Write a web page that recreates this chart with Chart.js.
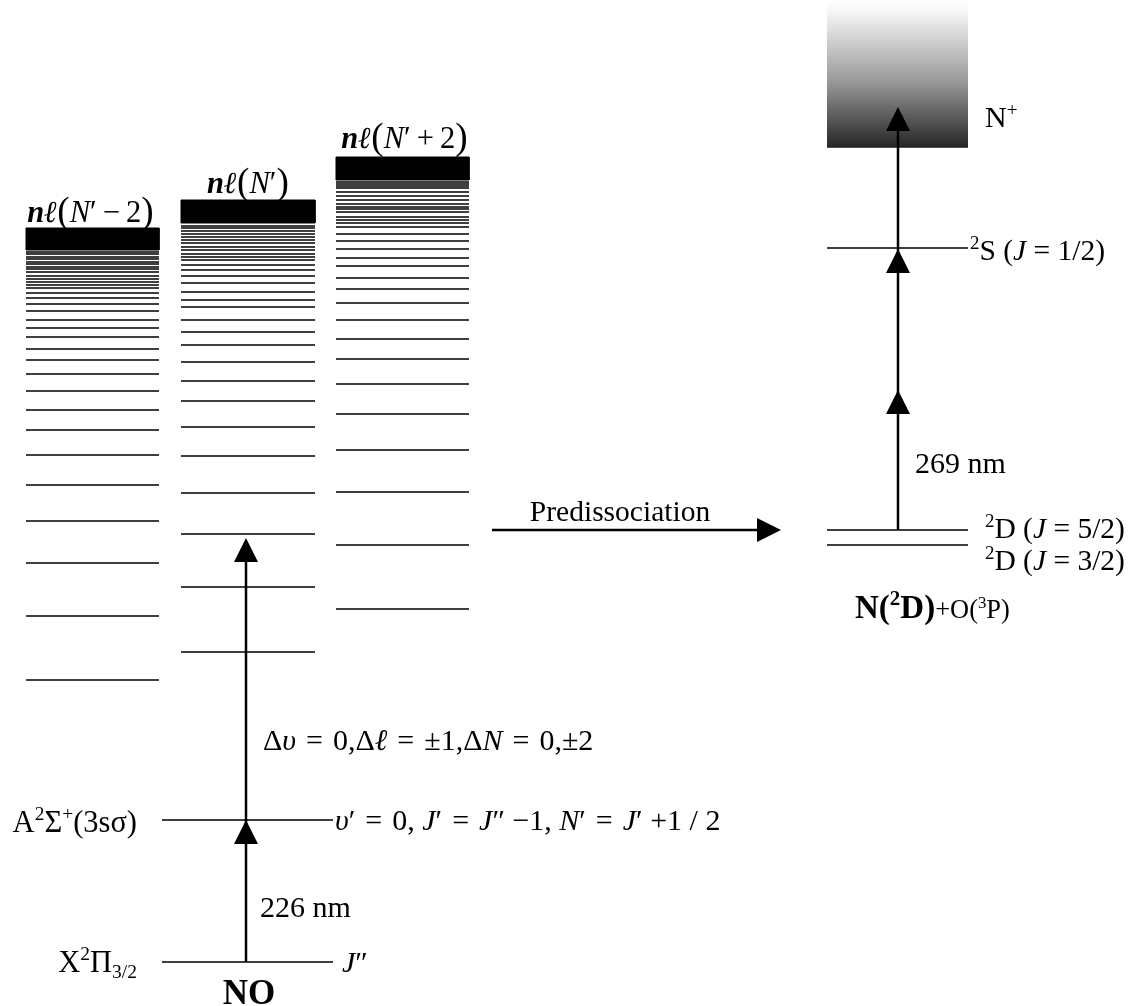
<!DOCTYPE html>
<html>
<head>
<meta charset="utf-8">
<script src="https://cdn.jsdelivr.net/npm/chart.js@4.4.1/dist/chart.umd.min.js"></script>
<style>
  html, body { margin: 0; padding: 0; background: #ffffff; }
  #wrap { width: 1128px; height: 1006px; position: relative; }
</style>
</head>
<body>
<div id="wrap"><canvas id="diagram"></canvas></div>
<script>
// Energies in arbitrary units, NO X state = 0.
// Rydberg series converging on the ion, one ladder per rotational branch.
const seriesNames = ['nℓ(N′−2)', 'nℓ(N′)', 'nℓ(N′+2)'];
const levelsNm2 = [28.2, 34.6, 39.9, 44.1, 47.7, 50.7, 53.2, 55.2, 57.1, 58.8, 60.2, 61.3,
  62.5, 63.4, 64.2, 65.1, 65.8, 66.4, 66.9, 67.4, 67.7, 68.0, 68.3, 68.6, 69.0, 69.3,
  69.5, 69.8, 70.0, 70.3, 70.5, 70.8, 71.0];
const levelsN = [31.0, 37.5, 42.8, 46.9, 50.6, 53.5, 56.1, 58.1, 60.0, 61.7, 63.0, 64.2,
  65.5, 66.2, 67.0, 67.9, 68.6, 69.2, 69.7, 70.2, 70.5, 70.8, 71.2, 71.5, 71.9, 72.2,
  72.5, 72.8, 73.1, 73.4, 73.6];
const levelsNp2 = [35.3, 41.7, 47.0, 51.2, 54.8, 57.8, 60.3, 62.3, 64.2, 65.9, 67.3, 68.4,
  69.6, 70.4, 71.3, 72.1, 72.8, 73.5, 73.9, 74.2, 74.5, 75.0, 75.3, 75.5, 75.8, 76.2,
  76.6, 77.0, 77.4, 77.6, 77.8, 78.0];
// unresolved high-n part of each ladder: [low, high]
const continuumNm2 = [71.2, 73.4];
const continuumN = [73.9, 76.2];
const continuumNp2 = [78.2, 80.5];

// NO X²Π3/2 (J″) and A²Σ⁺ (v′=0) levels
const noStateEnergies = [0, 14.2];
// atomic nitrogen: ²D(J=3/2), ²D(J=5/2), ²S(J=1/2)
const atomLevelEnergies = [41.7, 43.2, 71.4];
// N⁺ ionisation limit and top of the drawn continuum
const ionLimit = 81.5;
const ionTop = 96.2;

// arrow tips
const pumpArrowTips = [14.2, 42.4];        // 226 nm, then Rydberg excitation
const probeArrowTips = [57.2, 71.3, 85.5]; // 269 nm (2+1) REMPI of N(²D)
const predissociationEnergy = 43.2;

// ---- layout along the horizontal axis (same units) ----
const COLS = [[2.6, 15.9], [18.1, 31.5], [33.6, 46.9]];
const NO_SPAN = [16.2, 33.3];
const ATOM_SPAN = [82.7, 96.8];
const PUMP_X = 24.6;
const PROBE_X = 89.8;
const PRED_SPAN = [49.2, 78.1];
const HEAD_LEN = 2.4;

const SERIF = '"Liberation Serif", "Times New Roman", serif';

function hSegments(energies, x0, x1) {
  const pts = [];
  energies.forEach(e => { pts.push({x: x0, y: e}, {x: x1, y: e}, {x: x1, y: null}); });
  return pts;
}
function box(x0, x1, lo, hi) {
  return [{x: x0, y: hi}, {x: x1, y: hi}, {x: x1, y: lo}, {x: x0, y: lo}, {x: x0, y: hi}];
}

// arrowhead image: tip at the canvas centre, pointing up
function makeHead(w, h) {
  const c = document.createElement('canvas');
  c.width = w; c.height = h * 2;
  const g = c.getContext('2d');
  g.fillStyle = '#000';
  g.beginPath();
  g.moveTo(w / 2, h);
  g.lineTo(w, h * 2);
  g.lineTo(0, h * 2);
  g.closePath();
  g.fill();
  return c;
}
const head = makeHead(24, 24);

const pumpTop = pumpArrowTips[pumpArrowTips.length - 1];
const probeTop = probeArrowTips[probeArrowTips.length - 1];

const shafts = [
  {x: PUMP_X, y: noStateEnergies[0]}, {x: PUMP_X, y: pumpTop - HEAD_LEN / 2}, {x: PUMP_X, y: null},
  {x: PROBE_X, y: atomLevelEnergies[1]}, {x: PROBE_X, y: probeTop - HEAD_LEN / 2}, {x: PROBE_X, y: null},
  {x: PRED_SPAN[0], y: predissociationEnergy}, {x: PRED_SPAN[1] - HEAD_LEN / 2, y: predissociationEnergy}
];
const heads = [
  ...pumpArrowTips.map(e => ({x: PUMP_X, y: e})),
  ...probeArrowTips.map(e => ({x: PROBE_X, y: e})),
  {x: PRED_SPAN[1], y: predissociationEnergy}
];
const headRot = heads.map((p, i) => i === heads.length - 1 ? 90 : 0);

const lineDefaults = {showLine: true, pointRadius: 0, pointHoverRadius: 0, spanGaps: false,
  tension: 0, borderColor: '#000', backgroundColor: '#000', fill: false};

function ionGradient(c) {
  const chart = c.chart;
  if (!chart.chartArea) return '#888';
  const y = chart.scales.y;
  const g = chart.ctx.createLinearGradient(0, y.getPixelForValue(ionTop), 0, y.getPixelForValue(ionLimit));
  g.addColorStop(0, '#ffffff');
  g.addColorStop(0.08, '#f6f6f6');
  g.addColorStop(0.55, '#9a9a9a');
  g.addColorStop(1, '#262626');
  return g;
}

const datasets = [
  Object.assign({}, lineDefaults, {label: 'arrowheads', data: heads, showLine: false,
    pointRadius: 12, pointStyle: head, pointRotation: headRot, order: 0}),
  Object.assign({}, lineDefaults, {label: 'arrows', data: shafts, borderWidth: 2.5, order: 1}),
  Object.assign({}, lineDefaults, {label: seriesNames[0], data: hSegments(levelsNm2, COLS[0][0], COLS[0][1]), borderWidth: 1.6, order: 2}),
  Object.assign({}, lineDefaults, {label: seriesNames[1], data: hSegments(levelsN, COLS[1][0], COLS[1][1]), borderWidth: 1.6, order: 2}),
  Object.assign({}, lineDefaults, {label: seriesNames[2], data: hSegments(levelsNp2, COLS[2][0], COLS[2][1]), borderWidth: 1.6, order: 2}),
  Object.assign({}, lineDefaults, {label: 'NO', data: hSegments(noStateEnergies, NO_SPAN[0], NO_SPAN[1]), borderWidth: 1.5, order: 2}),
  Object.assign({}, lineDefaults, {label: 'N', data: hSegments(atomLevelEnergies, ATOM_SPAN[0], ATOM_SPAN[1]), borderWidth: 1.5, order: 2}),
  Object.assign({}, lineDefaults, {label: 'N+ limit', data: hSegments([ionLimit], ATOM_SPAN[0], ATOM_SPAN[1]), borderWidth: 1.5, borderColor: '#1e1e1e', order: 2}),
  Object.assign({}, lineDefaults, {label: 'cont1', data: box(COLS[0][0], COLS[0][1], continuumNm2[0], continuumNm2[1]), fill: 'shape', borderWidth: 1, order: 3}),
  Object.assign({}, lineDefaults, {label: 'cont2', data: box(COLS[1][0], COLS[1][1], continuumN[0], continuumN[1]), fill: 'shape', borderWidth: 1, order: 3}),
  Object.assign({}, lineDefaults, {label: 'cont3', data: box(COLS[2][0], COLS[2][1], continuumNp2[0], continuumNp2[1]), fill: 'shape', borderWidth: 1, order: 3}),
  Object.assign({}, lineDefaults, {label: 'N+', data: box(ATOM_SPAN[0], ATOM_SPAN[1], ionLimit, ionTop), fill: 'shape',
    borderWidth: 0, borderColor: 'rgba(0,0,0,0)', backgroundColor: ionGradient, order: 4})
];

// ---- text ----
// run flags: i italic, b bold, sup/sub, s size factor, dy baseline shift (em)
function nl(tail) {
  return [{t: 'n', b: 1, i: 1}, {t: 'ℓ', b: 1, i: 1}, {t: '(', s: 1.22, dy: 0.04},
          {t: 'N', i: 1}, {t: '′'}, {t: tail}, {t: ')', s: 1.22, dy: 0.04}];
}
const EQ = '\u2004=\u2004';
const texts = [
  {x: 9.05, y: 74.0, align: 'center', size: 30.5, runs: nl('\u2009−\u20092')},
  {x: 24.8, y: 76.9, align: 'center', size: 30.5, runs: nl('')},
  {x: 40.45, y: 81.4, align: 'center', size: 30.5, runs: nl('\u2009+\u20092')},
  {x: 13.7, y: 13.0, align: 'right', size: 30.5, runs: [{t: 'A'}, {t: '2', sup: 1}, {t: 'Σ'}, {t: '+', sup: 1}, {t: '(3sσ)'}]},
  {x: 13.7, y: -1.0, align: 'right', size: 30.5, runs: [{t: 'X'}, {t: '2', sup: 1}, {t: 'Π'}, {t: '3/2', sub: 1}]},
  {x: 26.0, y: 4.5, align: 'left', size: 30, runs: [{t: '226 nm'}]},
  {x: 24.9, y: -4.2, align: 'center', size: 35, runs: [{t: 'NO', b: 1}]},
  {x: 34.2, y: -1.0, align: 'left', size: 30, runs: [{t: 'J', i: 1}, {t: '″'}]},
  {x: 26.3, y: 21.2, align: 'left', size: 30, runs: [{t: 'Δ'}, {t: 'υ', i: 1}, {t: EQ + '0,Δ'}, {t: 'ℓ', i: 1},
    {t: EQ + '±1,Δ'}, {t: 'N', i: 1}, {t: EQ + '0,±2'}]},
  {x: 33.5, y: 13.2, align: 'left', size: 30, runs: [{t: 'υ', i: 1}, {t: '′' + EQ + '0, '}, {t: 'J', i: 1}, {t: '′' + EQ},
    {t: 'J', i: 1}, {t: '″ −1, '}, {t: 'N', i: 1}, {t: '′' + EQ}, {t: 'J', i: 1}, {t: '′ +1 / 2'}]},
  {x: 62.0, y: 44.1, align: 'center', size: 29.5, runs: [{t: 'Predissociation'}]},
  {x: 91.5, y: 48.9, align: 'left', size: 30, runs: [{t: '269 nm'}]},
  {x: 98.5, y: 83.5, align: 'left', size: 30, runs: [{t: 'N'}, {t: '+', sup: 1}]},
  {x: 97.0, y: 70.2, align: 'left', size: 29.5, runs: [{t: '2', sup: 1}, {t: 'S ('}, {t: 'J', i: 1}, {t: ' = 1/2)'}]},
  {x: 98.5, y: 42.4, align: 'left', size: 29.5, runs: [{t: '2', sup: 1}, {t: 'D ('}, {t: 'J', i: 1}, {t: ' = 5/2)'}]},
  {x: 98.5, y: 39.2, align: 'left', size: 29.5, runs: [{t: '2', sup: 1}, {t: 'D ('}, {t: 'J', i: 1}, {t: ' = 3/2)'}]},
  {x: 85.5, y: 34.4, align: 'left', size: 33, runs: [{t: 'N(', b: 1}, {t: '2', b: 1, sup: 1}, {t: 'D)', b: 1},
    {t: '+O(', s: 0.8}, {t: '3', s: 0.8, sup: 1}, {t: 'P)', s: 0.8}]}
];

function runFont(r, size) {
  const px = size * (r.s || 1) * ((r.sup || r.sub) ? 0.64 : 1);
  return (r.i ? 'italic ' : '') + (r.b ? 'bold ' : '') + px.toFixed(1) + 'px ' + SERIF;
}

const textPlugin = {
  id: 'levelText',
  afterDatasetsDraw(chart) {
    const ctx = chart.ctx, xs = chart.scales.x, ys = chart.scales.y;
    ctx.save();
    ctx.fillStyle = '#000';
    ctx.textBaseline = 'alphabetic';
    ctx.textAlign = 'left';
    texts.forEach(item => {
      let total = 0;
      item.runs.forEach(r => { ctx.font = runFont(r, item.size); r.w = ctx.measureText(r.t).width; total += r.w; });
      const px = xs.getPixelForValue(item.x), py = ys.getPixelForValue(item.y);
      let cx = item.align === 'right' ? px - total : item.align === 'center' ? px - total / 2 : px;
      item.runs.forEach(r => {
        ctx.font = runFont(r, item.size);
        const base = item.size * (r.s || 1);
        let dy = (r.dy || 0) * item.size;
        if (r.sup) dy -= base * 0.38;
        if (r.sub) dy += base * 0.2;
        ctx.fillText(r.t, cx, py + dy);
        cx += r.w;
      });
    });
    ctx.restore();
  }
};

new Chart(document.getElementById('diagram'), {
  type: 'scatter',
  data: {datasets},
  options: {
    responsive: true,
    maintainAspectRatio: false,
    animation: false,
    events: [],
    layout: {padding: 0, autoPadding: false},
    plugins: {legend: {display: false}, tooltip: {enabled: false}},
    scales: {
      x: {type: 'linear', min: 0, max: 112.8, display: false},
      y: {type: 'linear', min: -4.4, max: 96.2, display: false}
    }
  },
  plugins: [textPlugin]
});
</script>
</body>
</html>
